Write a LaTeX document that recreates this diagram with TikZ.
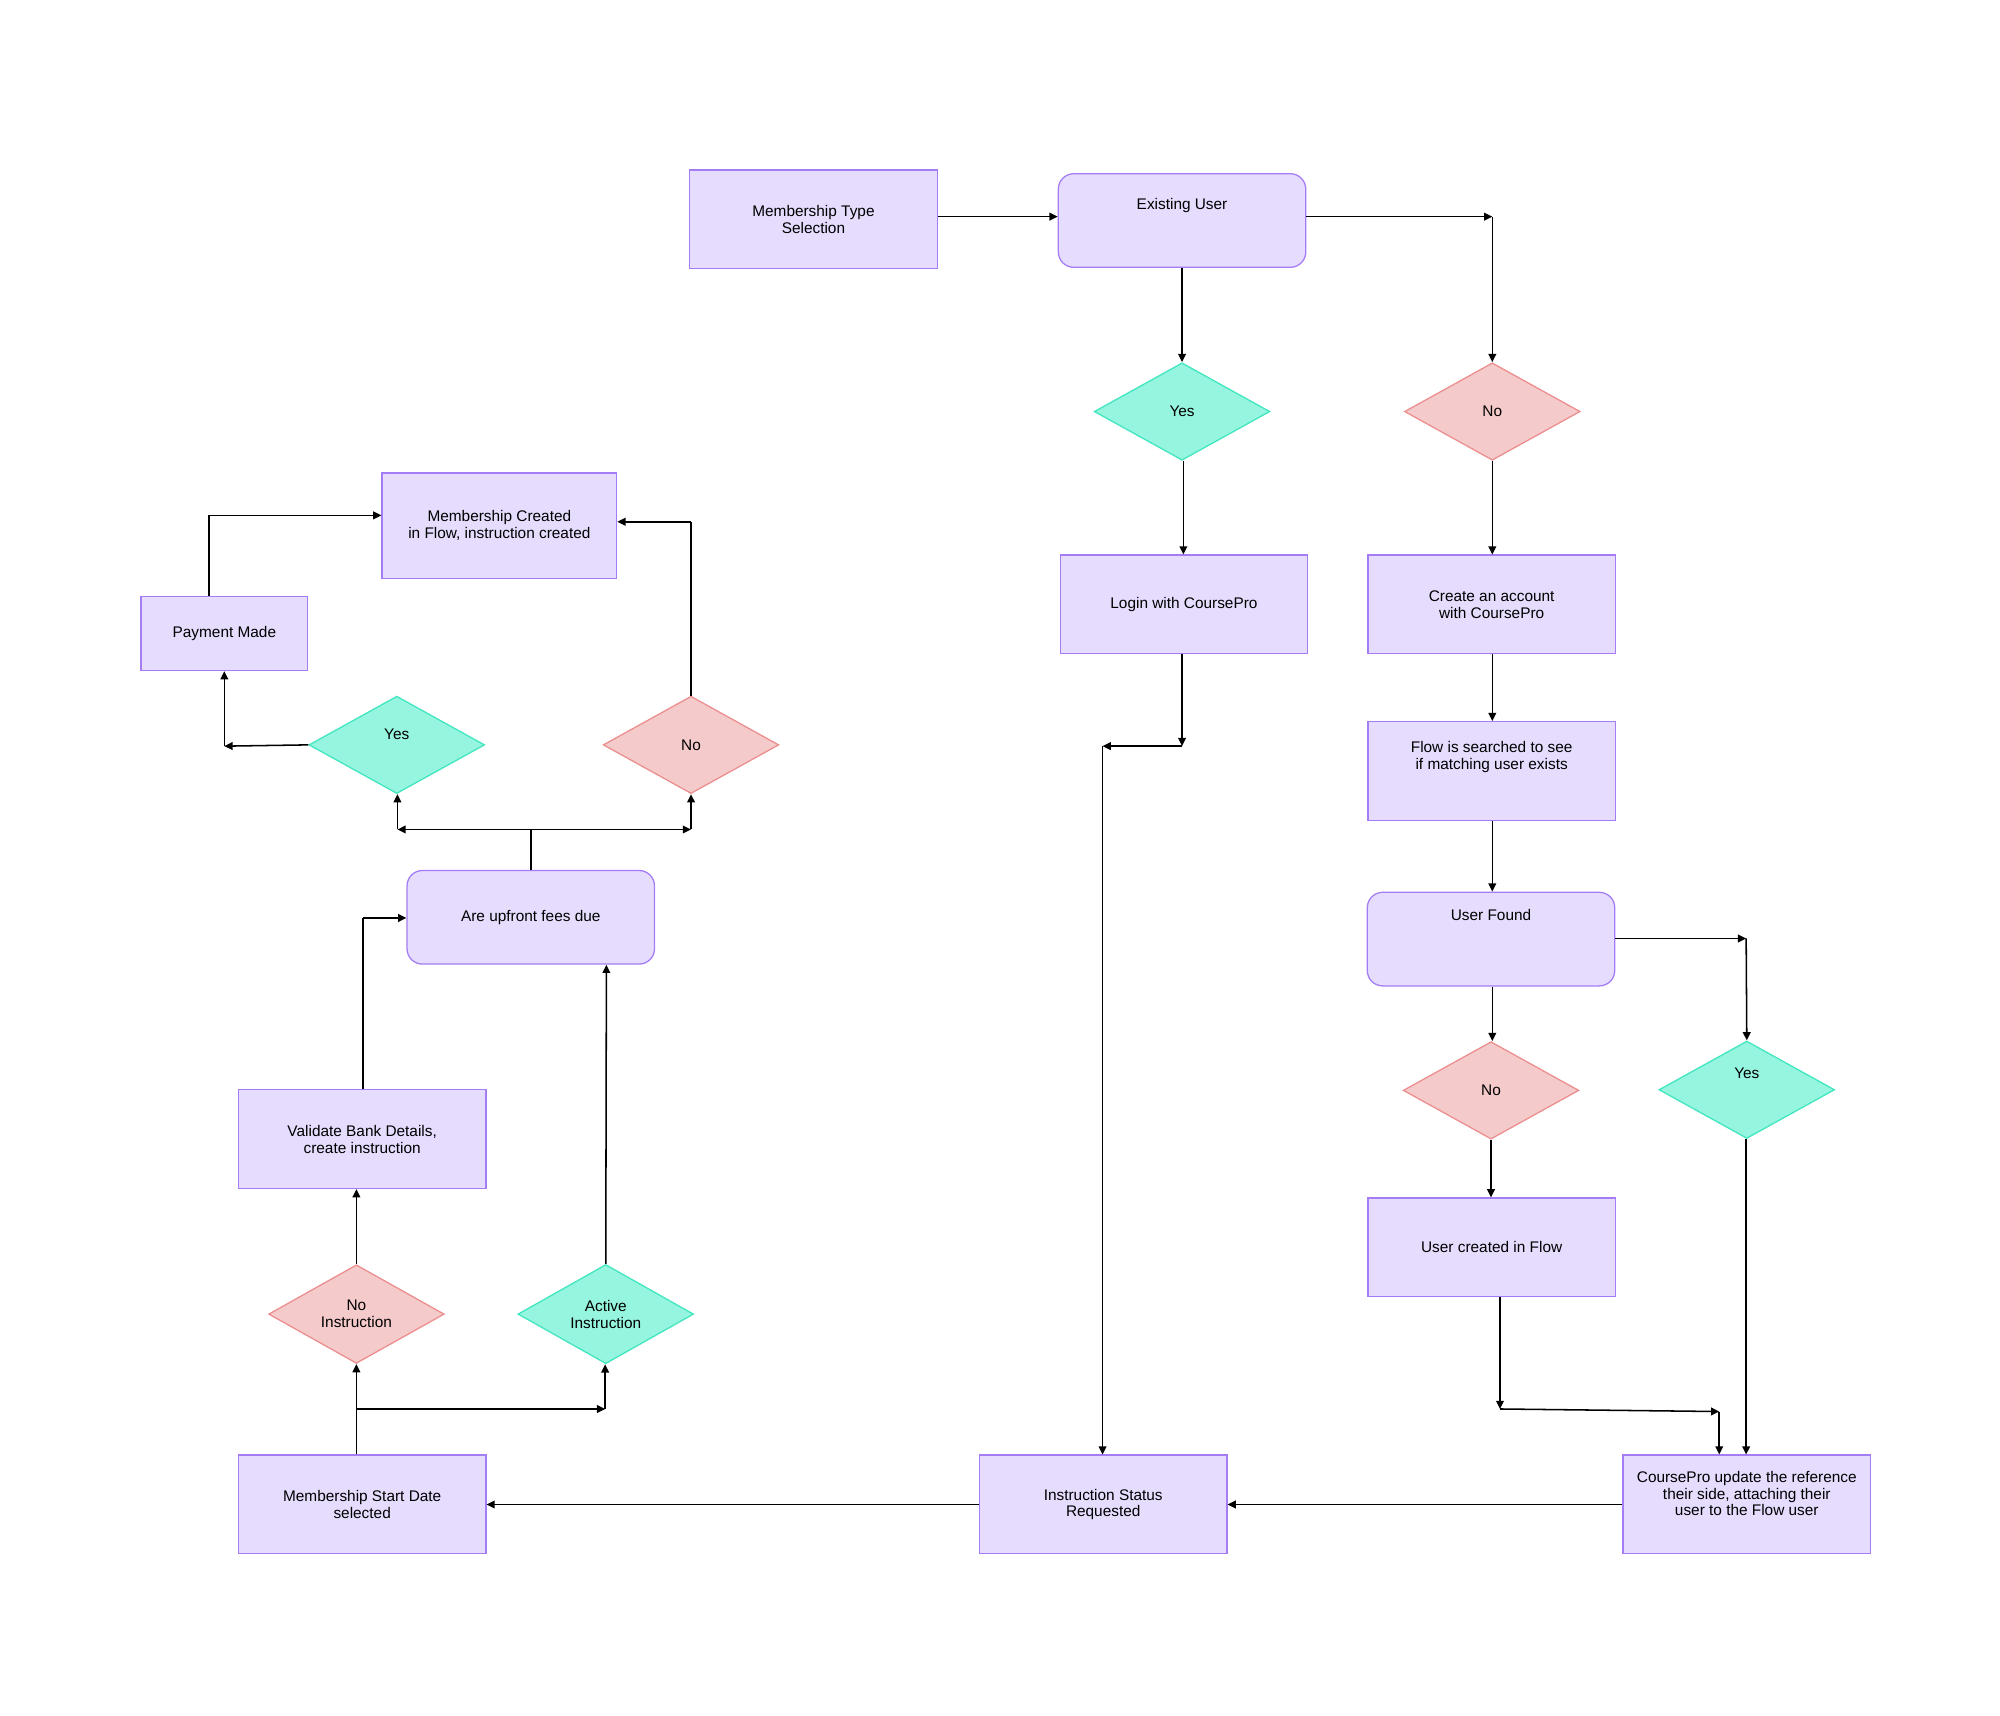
\documentclass[tikz,border=0pt]{standalone}
\usepackage{fontspec}
\setmainfont{Liberation Sans}
\usetikzlibrary{shapes.geometric,arrows.meta}
\definecolor{bfill}{HTML}{E6DCFD}
\definecolor{bdraw}{HTML}{A47CF3}
\definecolor{gfill}{HTML}{96F5DF}
\definecolor{gdraw}{HTML}{3FE6BE}
\definecolor{pfill}{HTML}{F5CACA}
\definecolor{pdraw}{HTML}{EC8E8E}
\begin{document}
\begin{tikzpicture}[x=0.5pt,y=-0.5pt,
  every node/.style={font=\fontsize{6}{6.6}\selectfont, align=center, inner sep=0pt},
  boxr/.style={rectangle, draw=bdraw, fill=bfill, line width=0.5pt, minimum width=96.5pt, minimum height=38.5pt},
  rbox/.style={boxr, rounded corners=6pt, minimum height=36.5pt},
  dg/.style={diamond, draw=gdraw, fill=gfill, line width=0.5pt, minimum width=68.5pt, minimum height=38pt},
  dp/.style={diamond, draw=pdraw, fill=pfill, line width=0.5pt, minimum width=68.5pt, minimum height=38pt},
  ar/.style={-{Triangle[length=3.2pt,width=3pt]}, line width=0.6pt},
  ln/.style={line width=0.6pt}]
\useasboundingbox (0,0) rectangle (1560,1338);
% nodes
\node[boxr] (mts) at (634.5,171) {Membership Type\\Selection};
\node[rbox] (eu) at (922,172) {Existing User\\[6pt]};
\node[dg] (yes1) at (922,321) {Yes};
\node[dp] (no1) at (1164,321) {No};
\node[boxr] (login) at (923.5,471.5) {Login with CoursePro};
\node[boxr] (create) at (1163.5,471.5) {Create an account\\with CoursePro};
\node[boxr] (flow) at (1163.5,601.5) {Flow is searched to see\\if matching user exists\\[6pt]};
\node[rbox] (uf) at (1163,732.5) {User Found\\[12pt]};
\node[dp] (no2) at (1163,850.5) {No};
\node[dg] (yes2) at (1362.5,850) {Yes\\[6pt]};
\node[boxr] (ucf) at (1163.5,973) {User created in Flow};
\node[boxr] (cp) at (1362.5,1173.5) {CoursePro update the reference\\their side, attaching their\\user to the Flow user\\[2pt]};
\node[boxr] (isr) at (860.5,1173.5) {Instruction Status\\Requested};
\node[boxr] (msd) at (282.5,1173.5) {Membership Start Date\\selected};
\node[dp] (noi) at (278,1025) {No\\Instruction};
\node[dg] (act) at (472.5,1025) {Active\\Instruction};
\node[boxr] (val) at (282.5,888.5) {Validate Bank Details,\\create instruction};
\node[rbox] (up) at (414,715.5) {Are upfront fees due};
\node[dg] (yes3) at (309.5,581) {Yes\\[2pt]};
\node[dp] (no3) at (539,581) {No};
\node[boxr, minimum width=65pt, minimum height=29pt] (pay) at (175,494) {Payment Made};
\node[boxr, minimum width=91.5pt, minimum height=41pt] (mc) at (389.5,410) {Membership Created\\in Flow, instruction created};
% coordinates
\coordinate (c1) at (1164,169);
\coordinate (c2) at (1362,732);
\coordinate (c3) at (922,582);
\coordinate (c4) at (860,582);
\coordinate (c5) at (1170,1099);
\coordinate (c6) at (1341,1101);
\coordinate (c7) at (278,1099);
\coordinate (c8) at (472,1099);
\coordinate (c9) at (283,716);
\coordinate (c10) at (414,647);
\coordinate (c11) at (310,647);
\coordinate (c12) at (539,647);
\coordinate (c13) at (175,582);
\coordinate (c14) at (163,402);
\coordinate (c15) at (539,407);
% connectors
\draw[ar] (mts.east |- 0,169) -- (eu.west |- 0,169);
\draw[ar] (eu.east |- 0,169) -- (c1);
\draw[ar] (c1) -- (no1.north);
\draw[ar] (eu.south) -- (yes1.north);
\draw[ar] (yes1.south -| 923,0) -- (login.north -| 923,0);
\draw[ar] (no1.south) -- (create.north -| 1164,0);
\draw[ar] (create.south -| 1164,0) -- (flow.north -| 1164,0);
\draw[ar] (flow.south -| 1164,0) -- (uf.north -| 1164,0);
\draw[ar] (uf.east |- c2) -- (c2);
\draw[ar] (c2) -- (yes2.north);
\draw[ar] (uf.south -| 1164,0) -- (no2.north -| 1164,0);
\draw[ar] (no2.south) -- (ucf.north -| 1163,0);
\draw[ar] (ucf.south -| c5) -- (c5);
\draw[ar] (c5) -- (c6);
\draw[ar] (c6) -- (cp.north -| c6);
\draw[ar] (yes2.south -| 1362,0) -- (cp.north -| 1362,0);
\draw[ar] (cp.west) -- (isr.east);
\draw[ar] (login.south -| c3) -- (c3);
\draw[ar] (c3) -- (c4);
\draw[ar] (c4) -- (isr.north -| c4);
\draw[ar] (isr.west) -- (msd.east);
\draw[ar] (msd.north -| c7) -- (noi.south);
\draw[ar] (c7) -- (c8);
\draw[ar] (c8) -- (act.south -| c8);
\draw[ar] (noi.north) -- (val.south -| 278,0);
\draw[ln] (val.north -| c9) -- (c9);
\draw[ar] (c9) -- (up.west |- c9);
\draw[ar] (act.north) -- (up.south -| 473,0);
\draw[ln] (up.north) -- (c10);
\draw[ar] (c10) -- (c11);
\draw[ar] (c10) -- (c12);
\draw[ar] (c11) -- (yes3.south -| c11);
\draw[ar] (c12) -- (no3.south);
\draw[ar] (yes3.west) -- (c13);
\draw[ar] (c13) -- (pay.south -| c13);
\draw[ln] (pay.north -| c14) -- (c14);
\draw[ar] (c14) -- (mc.west |- c14);
\draw[ln] (no3.north) -- (c15);
\draw[ar] (c15) -- (mc.east |- c15);
\end{tikzpicture}
\end{document}
